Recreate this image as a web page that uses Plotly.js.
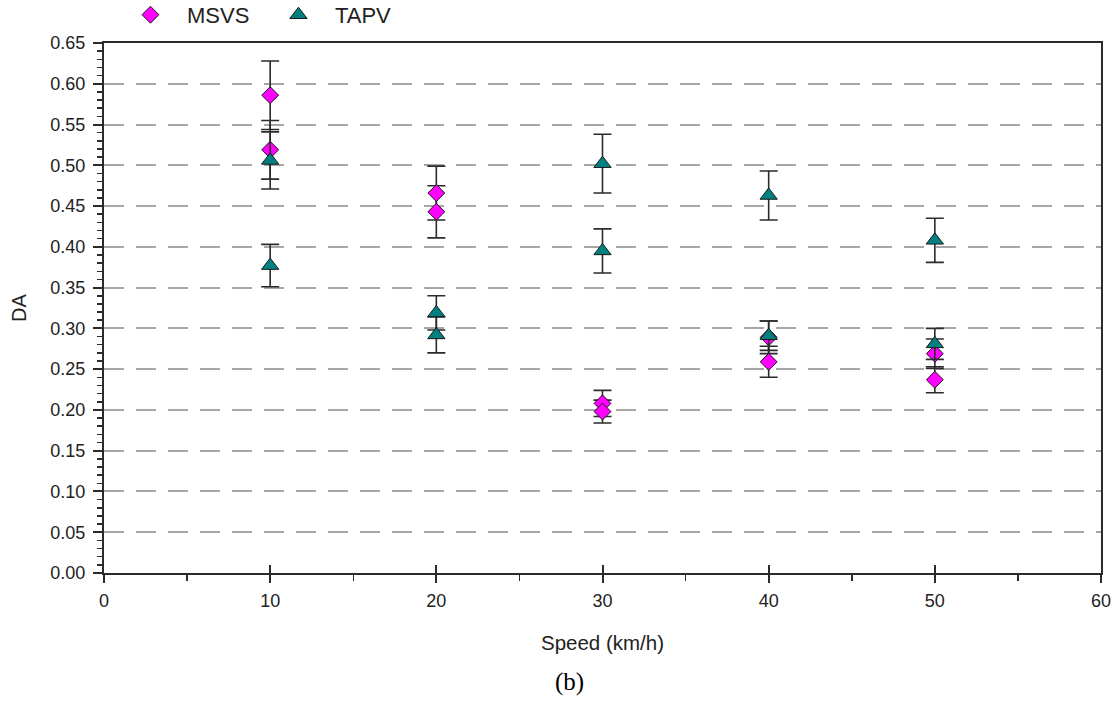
<!DOCTYPE html>
<html>
<head>
<meta charset="utf-8">
<script src="https://cdn.plot.ly/plotly-3.0.1.min.js"></script>
<style>html,body{margin:0;padding:0;background:#fff;}#chart{width:1118px;height:701px;}</style>
</head>
<body>
<div id="chart"></div>
<script>
// Data
const speedMSVS = [10, 10, 20, 20, 30, 30, 40, 40, 50, 50];
const daMSVS    = [0.586, 0.519, 0.466, 0.443, 0.208, 0.198, 0.289, 0.259, 0.269, 0.237];
const errMSVS   = [0.042, 0.036, 0.033, 0.032, 0.016, 0.014, 0.020, 0.019, 0.018, 0.016];

const speedTAPV = [10, 10, 20, 20, 30, 30, 40, 40, 50, 50];
const daTAPV    = [0.506, 0.377, 0.319, 0.292, 0.502, 0.395, 0.463, 0.291, 0.408, 0.281];
const errTAPV   = [0.035, 0.026, 0.021, 0.022, 0.036, 0.027, 0.030, 0.018, 0.027, 0.019];

const seriesNames = ['MSVS', 'TAPV'];
const xTitle = 'Speed (km/h)';
const yTitle = 'DA';
const caption = '(b)';

const FONT = '"Liberation Sans", Arial, sans-serif';
const AXC = '#2b2b2b';

const traces = [
  {
    x: speedMSVS, y: daMSVS, name: seriesNames[0], type: 'scatter', mode: 'markers',
    marker: {symbol: 'diamond', size: 13, color: '#ff00ff', line: {color: '#1a1a1a', width: 1}},
    error_y: {type: 'data', array: errMSVS, visible: true, color: AXC, thickness: 1.6, width: 9}
  },
  {
    x: speedTAPV, y: daTAPV, name: seriesNames[1], type: 'scatter', mode: 'markers',
    marker: {symbol: 'triangle-up', size: 15, color: '#008080', line: {color: '#1a1a1a', width: 1}},
    error_y: {type: 'data', array: errTAPV, visible: true, color: AXC, thickness: 1.6, width: 9}
  },
  {
    x: [], y: [], xaxis: 'x2', type: 'scatter', mode: 'markers', showlegend: false, hoverinfo: 'skip'
  }
];

const layout = {
  width: 1118, height: 701,
  margin: {l: 104, r: 17, t: 43, b: 128, autoexpand: false},
  paper_bgcolor: '#fff', plot_bgcolor: '#fff',
  font: {family: FONT, color: '#222', size: 18},
  showlegend: true,
  legend: {
    orientation: 'h', x: 0.010, xanchor: 'left', y: 1.053, yanchor: 'middle',
    font: {family: FONT, size: 22, color: '#222'}, itemwidth: 63,
    entrywidth: 70, entrywidthmode: 'pixels', traceorder: 'normal',
    bgcolor: 'rgba(0,0,0,0)'
  },
  xaxis: {
    range: [0, 60], dtick: 10, tick0: 0, autorange: false,
    showline: true, linecolor: AXC, linewidth: 2, mirror: true,
    ticks: 'outside', ticklen: 8, tickwidth: 2, tickcolor: AXC,
    minor: {dtick: 5, ticks: 'outside', ticklen: 6, tickwidth: 1.5, tickcolor: AXC, showgrid: false},
    showgrid: false, zeroline: false,
    tickfont: {family: FONT, size: 18, color: '#222'},
    ticklabelstandoff: 2,
    title: {text: xTitle, font: {family: FONT, size: 20.5, color: '#222'}, standoff: 26}
  },
  xaxis2: {
    overlaying: 'x', matches: 'x', side: 'bottom', range: [0, 60], dtick: 10, tick0: 0,
    ticks: 'inside', ticklen: 8, tickwidth: 2, tickcolor: AXC,
    showticklabels: false, showgrid: false, zeroline: false, showline: false
  },
  yaxis: {
    range: [0, 0.65], dtick: 0.05, tick0: 0, autorange: false, tickformat: '.2f',
    showline: true, linecolor: AXC, linewidth: 2, mirror: true,
    ticks: 'outside', ticklen: 9, tickwidth: 2, tickcolor: AXC,
    minor: {dtick: 0.01, ticks: 'outside', ticklen: 5, tickwidth: 1.5, tickcolor: AXC, showgrid: false},
    showgrid: true, gridcolor: '#a6a6a6', gridwidth: 2, griddash: '20px,12px',
    zeroline: false,
    tickfont: {family: FONT, size: 18, color: '#222'},
    ticklabelstandoff: 4,
    title: {text: yTitle, font: {family: FONT, size: 20, color: '#222'}, standoff: 18}
  },
  annotations: [
    {text: caption, xref: 'paper', yref: 'paper', x: 0.467, y: -0.205, xanchor: 'center', yanchor: 'middle',
     showarrow: false, font: {family: '"Liberation Serif", "Times New Roman", serif', size: 25, color: '#000'}}
  ]
};

Plotly.newPlot('chart', traces, layout, {displayModeBar: false, staticPlot: true});
</script>
</body>
</html>
